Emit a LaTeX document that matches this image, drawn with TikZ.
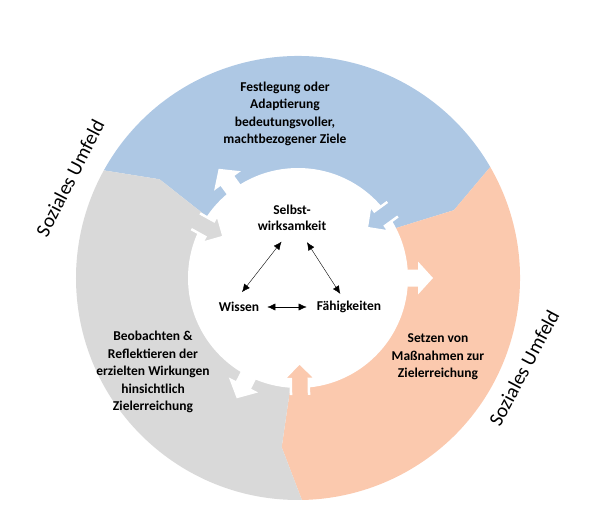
\documentclass[tikz,border=0pt]{standalone}
\usepackage{fontspec}
\setmainfont{Carlito}
\usetikzlibrary{arrows.meta}

\definecolor{ringblue}{HTML}{AEC8E4}
\definecolor{ringpeach}{HTML}{FBC9AE}
\definecolor{ringgray}{HTML}{D9D9D9}

\tikzset{
    seglabel/.style={align=center, font=\fontsize{13.5}{17.5}\selectfont\bfseries},
    corelabel/.style={align=center, inner sep=2pt, font=\fontsize{13.5}{16}\selectfont\bfseries},
    umfeld/.style={font=\fontsize{20}{24}\selectfont},
}

\begin{document}
\begin{tikzpicture}[x=1pt, y=1pt, >={Latex[length=8pt,width=7pt]}]
    \useasboundingbox (-298,-253) rectangle (294,278);

    % ring segments
    \fill[ringblue] (0,0) -- (146:110) -- (144.5:170) -- (151:222) arc[start angle=151, end angle=30, radius=222]
        -- (23.5:170) -- (27:110) -- cycle;
    \fill[ringpeach] (0,0) -- (27:110) -- (23.5:170) -- (30:222) arc[start angle=30, end angle=-89, radius=222]
        -- (-95.5:170) -- (-94:110) -- cycle;
    \fill[ringgray] (0,0) -- (-94:110) -- (-95.5:170) -- (-89:222) arc[start angle=-89, end angle=-209, radius=222]
        -- (144.5:170) -- (146:110) -- cycle;
    \fill[white] (0,0) circle (110);

    % arrows into the centre
    \foreach \a/\c in {36/ringblue, -89/ringpeach, 151/ringgray} {
        \begin{scope}[rotate=\a]
            \fill[\c] (85,0) -- (101,16) -- (101,9) -- (118,9) -- (118,-9) -- (101,-9) -- (101,-16) -- cycle;
            \draw[white, line width=2.5pt] (117,9) -- (101,9) -- (101,16) -- (85,0) -- (101,-16) -- (101,-9) -- (117,-9);
        \end{scope}
    }
    % arrows out of the centre
    \foreach \a in {126, 0, 243} {
        \fill[white, rotate=\a] (95,8.5) -- (120,8.5) -- (120,16.5) -- (135,0) -- (120,-16.5) -- (120,-8.5) -- (95,-8.5) -- cycle;
    }

    \node[seglabel] (ziele) at (-13,164) {Festlegung oder\\Adaptierung\\bedeutungsvoller,\\machtbezogener Ziele};
    \node[seglabel] (massn) at (140,-79) {Setzen von\\Maßnahmen zur\\Zielerreichung};
    \node[seglabel] (beob) at (-145,-94) {Beobachten \&\\Reflektieren der\\erzielten Wirkungen\\hinsichtlich\\Zielerreichung};

    \node[corelabel] (selbst) at (-6,60) {Selbst-\\wirksamkeit};
    \node[corelabel] (wissen) at (-59,-29) {Wissen};
    \node[corelabel] (faehig) at (51,-29) {Fähigkeiten};
    \draw[<->, shorten <=11pt, shorten >=10pt] (selbst.256) -- (wissen.114);
    \draw[<->, shorten <=11pt, shorten >=6pt] (selbst.301) -- (faehig.124);
    \draw[<->, shorten <=6pt, shorten >=8pt] (wissen) -- (faehig);

    \node[umfeld, rotate=63] (umfeldl) at (-228,100) {Soziales Umfeld};
    \node[umfeld, rotate=62] (umfeldr) at (226,-90) {Soziales Umfeld};
\end{tikzpicture}
\end{document}
